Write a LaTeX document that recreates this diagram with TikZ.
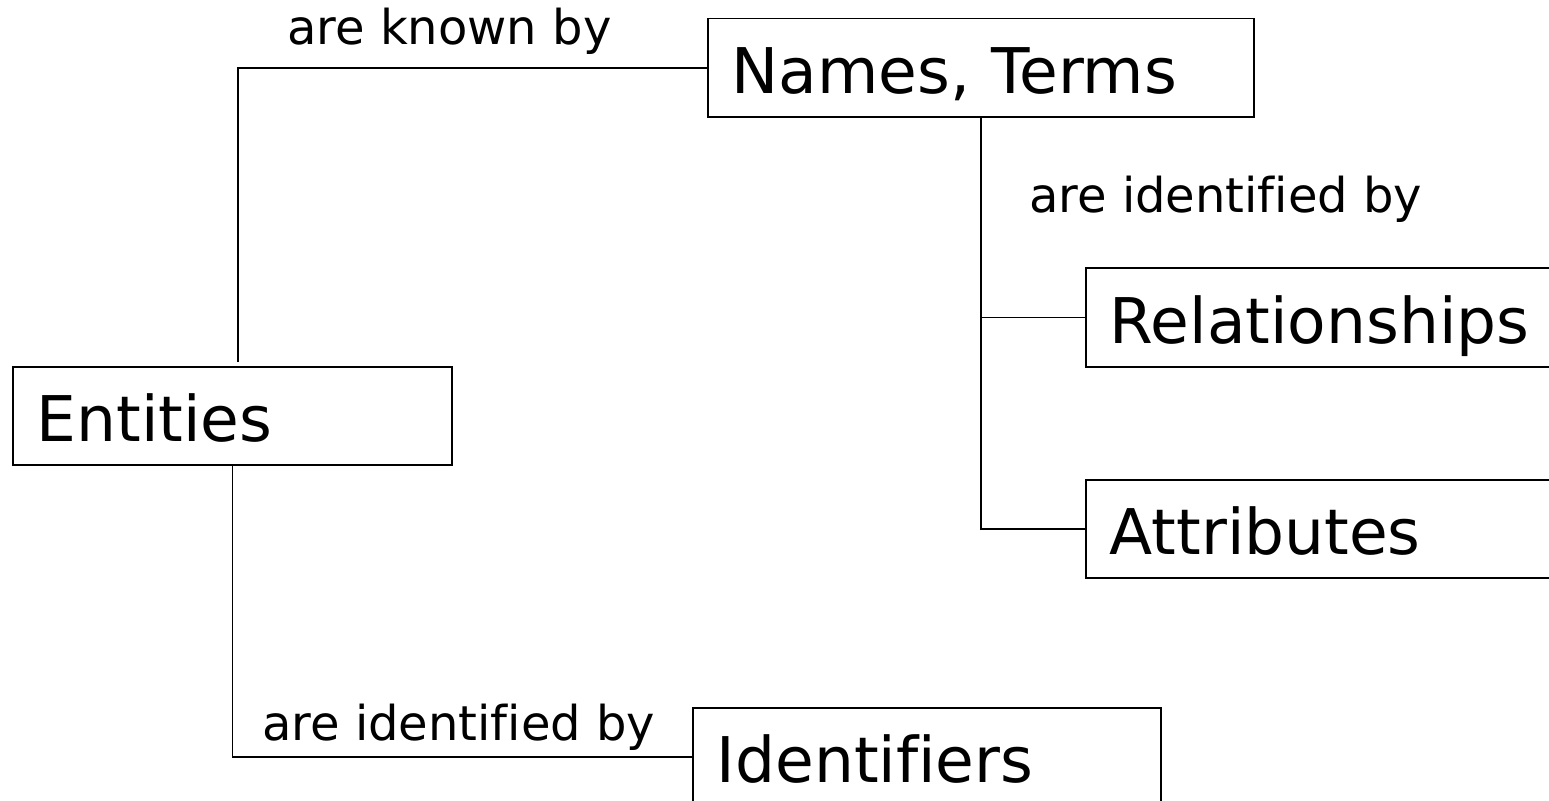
\documentclass[tikz,border=0pt]{standalone}
\usepackage{fontspec}
\setmainfont[Ligatures=NoCommon]{DejaVu Sans}
\begin{document}
\begin{tikzpicture}[x=1pt,y=-1pt,
  box/.style={draw, line width=1.5pt, rectangle, anchor=north west, inner xsep=24pt, inner ysep=0pt,
    text height=52pt, text depth=0pt, align=left, font=\fontsize{63}{70}\selectfont},
  lbl/.style={anchor=base west, inner sep=0pt, font=\fontsize{48}{56}\selectfont},
  conn/.style={line width=1.5pt}]
\useasboundingbox (0,0) rectangle (1549,800);
\node[box, minimum width=546pt, minimum height=98pt, text width=498pt] (names) at (707,18) {Names, Terms};
\node[box, minimum width=500pt, minimum height=99pt, text width=452pt] (rel) at (1085,267) {Relationships};
\node[box, minimum width=500pt, minimum height=98pt, text width=452pt] (attr) at (1085,479) {Attributes};
\node[box, minimum width=439pt, minimum height=98pt, text width=391pt] (ent) at (12,366) {Entities};
\node[box, minimum width=468pt, minimum height=98pt, text width=420pt] (idf) at (692,707) {Identifiers};
\node[lbl] (l1) at (287,45) {are known by};
\node[lbl] (l2) at (1029,212) {are identified by};
\node[lbl] (l3) at (262,740) {are identified by};
\coordinate (e1) at (238,362);
\draw[conn] (e1) |- (names.west);
\draw[conn] (names.south) |- (attr.west);
\draw[conn] (rel.west) -- (rel.west -| names.south);
\draw[conn] (ent.south) |- (idf.west);
\end{tikzpicture}
\end{document}
